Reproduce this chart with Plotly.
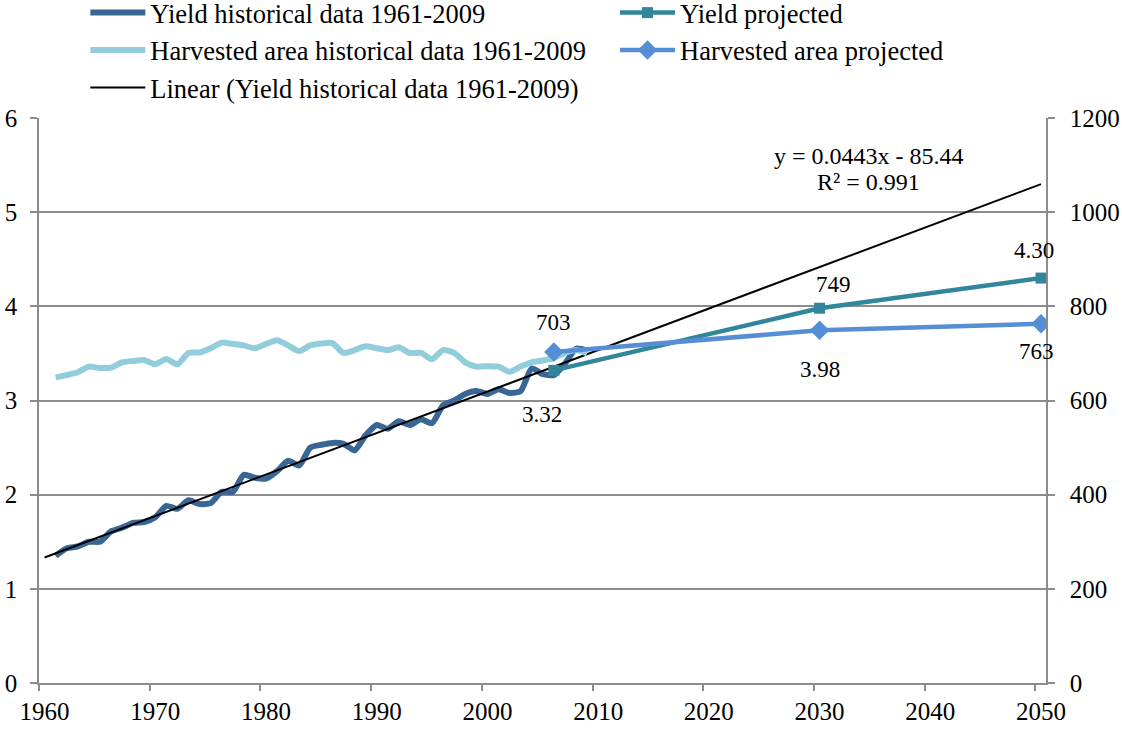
import numpy as np
import plotly.graph_objects as go

# ---------------- data ----------------
hist_years = list(range(1961, 2010))
yield_hist = [1.35, 1.43, 1.45, 1.50, 1.50, 1.61, 1.65, 1.70, 1.71, 1.76,
              1.88, 1.85, 1.94, 1.90, 1.91, 2.03, 2.03, 2.21, 2.18, 2.17,
              2.25, 2.36, 2.31, 2.50, 2.53, 2.55, 2.54, 2.47, 2.63, 2.74,
              2.70, 2.78, 2.74, 2.80, 2.76, 2.95, 3.00, 3.07, 3.10, 3.07,
              3.12, 3.08, 3.10, 3.34, 3.28, 3.27, 3.39, 3.55, 3.53]
area_hist = [649, 654, 660, 672, 669, 670, 681, 684, 686, 677,
             688, 677, 701, 702, 711, 723, 720, 717, 711, 720,
             728, 717, 705, 717, 721, 722, 701, 707, 715, 711,
             707, 713, 701, 701, 688, 707, 701, 681, 672, 673,
             672, 661, 672, 681, 685, 690, 701, 707, 700]
proj_years = [2006, 2030, 2050]
yield_proj = [3.32, 3.98, 4.30]
area_proj = [703, 749, 763]
yield_proj_labels = ["3.32", "3.98", "4.30"]
area_proj_labels = ["703", "749", "763"]
trend_years = [1960, 2050]
x_tick_years = list(range(1960, 2051, 10))
y_left_ticks = [0, 1, 2, 3, 4, 5, 6]
y_right_ticks = [0, 200, 400, 600, 800, 1000, 1200]
equation_text = "y = 0.0443x - 85.44"
r2_text = "R² = 0.991"

# linear trend fitted on the historical yield (as the spreadsheet trendline)
slope, intercept = np.polyfit(hist_years, yield_hist, 1)
trend_vals = [slope * yr + intercept for yr in trend_years]

# ---------------- style ----------------
FONT = "Liberation Serif, Times New Roman, serif"
GRID = "#8C8C8C"
C_YH = "#3A6696"
C_YP = "#31869B"
C_AH = "#92CDDC"
C_AP = "#558ED5"

fig = go.Figure()

fig.add_trace(go.Scatter(
    x=hist_years, y=yield_hist, mode="lines", line=dict(color=C_YH, width=6, shape="spline", smoothing=0.6),
    name="Yield historical data 1961-2009", legend="legend", legendgroup="a", yaxis="y"))
fig.add_trace(go.Scatter(
    x=hist_years, y=area_hist, mode="lines", line=dict(color=C_AH, width=6, shape="spline", smoothing=0.6),
    name="Harvested area historical data 1961-2009", legend="legend", legendgroup="b", yaxis="y2"))
fig.add_trace(go.Scatter(
    x=trend_years, y=trend_vals, mode="lines", line=dict(color="black", width=2),
    name="Linear (Yield historical data 1961-2009)", legend="legend", legendgroup="c", yaxis="y"))
fig.add_trace(go.Scatter(
    x=proj_years, y=yield_proj, mode="lines+markers", line=dict(color=C_YP, width=4.5),
    marker=dict(symbol="square", size=11, color=C_YP),
    name="Yield projected", legend="legend2", legendgroup="d", yaxis="y"))
fig.add_trace(go.Scatter(
    x=proj_years, y=area_proj, mode="lines+markers", line=dict(color=C_AP, width=4.5),
    marker=dict(symbol="diamond", size=15, color=C_AP),
    name="Harvested area projected", legend="legend2", legendgroup="e", yaxis="y2"))

# data labels (pixel offsets from their points)
yield_label_shift = [(-12, -44), (0, -61), (-7, 28)]
area_label_shift = [(0, 30), (14, 46), (-5, -28)]
for yr, v, t, (dx, dy) in zip(proj_years, yield_proj, yield_proj_labels, yield_label_shift):
    fig.add_annotation(x=yr, y=v, xref="x", yref="y", text=t, showarrow=False,
                       xanchor="center", yanchor="middle",
                       xshift=dx, yshift=dy, font=dict(family=FONT, size=23, color="black"))
for yr, v, t, (dx, dy) in zip(proj_years, area_proj, area_proj_labels, area_label_shift):
    fig.add_annotation(x=yr, y=v, xref="x", yref="y2", text=t, showarrow=False,
                       xanchor="center", yanchor="middle",
                       xshift=dx, yshift=dy, font=dict(family=FONT, size=23, color="black"))

fig.add_annotation(x=0.824, y=0.9333, xref="paper", yref="paper", text=equation_text, showarrow=False,
                   xanchor="center", yanchor="middle", font=dict(family=FONT, size=24, color="black"))
fig.add_annotation(x=0.824, y=0.8862, xref="paper", yref="paper", text=r2_text, showarrow=False,
                   xanchor="center", yanchor="middle", font=dict(family=FONT, size=24, color="black"))

legend_common = dict(font=dict(family=FONT, size=26.5, color="black"), bgcolor="rgba(0,0,0,0)",
                     orientation="v", yanchor="top", xanchor="left", tracegroupgap=6,
                     itemwidth=55, traceorder="normal")

fig.update_layout(
    width=1122, height=731,
    margin=dict(l=39, r=76, t=118, b=48, autoexpand=False),
    paper_bgcolor="white", plot_bgcolor="white",
    font=dict(family=FONT, size=25, color="black"),
    legend=dict(x=0.046, y=1.2285, **legend_common),
    legend2=dict(x=0.572, y=1.2285, **legend_common),
    xaxis=dict(range=[1959.5, 2050.45], tickmode="array", tickvals=x_tick_years, ticks="",
               showgrid=False, zeroline=False, showline=True, linecolor=GRID, linewidth=1.5,
               tickfont=dict(family=FONT, size=25, color="black"), ticklabelstandoff=5,
               minor=dict(tickmode="array", tickvals=[v - 0.5 for v in x_tick_years], ticks="outside",
                          ticklen=6, tickwidth=1.5, tickcolor=GRID, showgrid=False)),
    yaxis=dict(range=[0, 6], tickmode="array", tickvals=y_left_ticks, showgrid=True, gridcolor=GRID,
               gridwidth=1.5, zeroline=False, showline=True, linecolor=GRID, linewidth=1.5,
               ticks="outside", ticklen=7, tickwidth=1.5, tickcolor=GRID, ticklabelstandoff=8,
               tickfont=dict(family=FONT, size=25, color="black")),
    yaxis2=dict(range=[0, 1200], tickmode="array", tickvals=y_right_ticks, overlaying="y", side="right",
                showgrid=False, zeroline=False, showline=True, linecolor=GRID, linewidth=1.5,
                ticks="outside", ticklen=7, tickwidth=1.5, tickcolor=GRID, ticklabelstandoff=10,
                tickfont=dict(family=FONT, size=25, color="black")),
)

fig.write_html("out.html", config={"displayModeBar": False},
               post_script="document.body.style.margin='0px';")
